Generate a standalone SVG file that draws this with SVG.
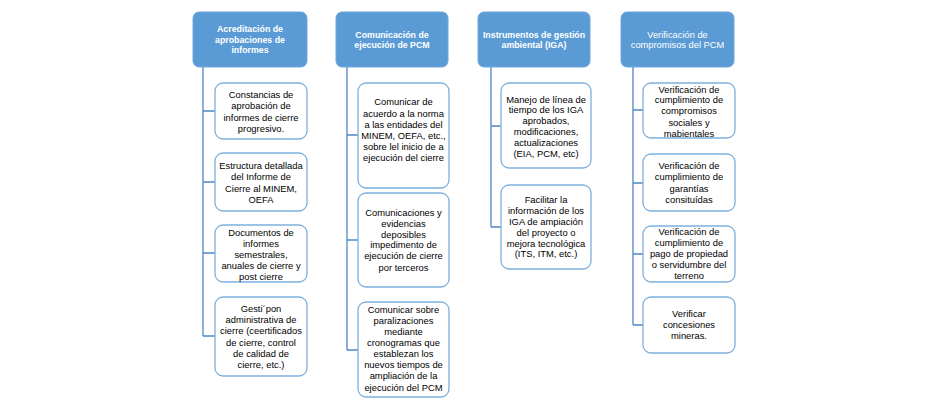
<svg xmlns="http://www.w3.org/2000/svg" width="927" height="407" viewBox="0 0 927 407">
<style>
.hdr{fill:#5B9BD5;stroke:#6FA8DC;stroke-width:1}
.box{fill:#FFFFFF;stroke:#7EB0DE;stroke-width:1.3}
.conn{fill:none;stroke:#4F86C6;stroke-width:1.3}
.ht{font-family:"Liberation Sans",Arial,sans-serif;font-size:8.8px;font-weight:bold;fill:#FFFFFF;text-anchor:middle}
.htr{font-family:"Liberation Sans",Arial,sans-serif;font-size:9.3px;fill:#FFFFFF;text-anchor:middle}
.bt{font-family:"Liberation Sans",Arial,sans-serif;font-size:9.4px;fill:#000000;text-anchor:middle}
</style>
<rect x="0" y="0" width="927" height="407" fill="#FFFFFF"/>
<g id="connectors">
<path class="conn" d="M203,67 V336 M203,111 H215 M203,182 H215 M203,253 H215 M203,336 H215"/>
<path class="conn" d="M347,67 V350 M347,135 H358 M347,240 H358 M347,350 H358"/>
<path class="conn" d="M491,67 V227 M491,126 H501 M491,227 H501"/>
<path class="conn" d="M633,67 V325 M633,110 H643 M633,183 H643 M633,254 H643 M633,325 H643"/>
</g>
<g id="h1">
<rect class="hdr" x="193" y="12" width="114" height="55" rx="6"/>
<text class="ht" x="250"><tspan x="250" y="31.5">Acreditación de</tspan><tspan x="250" y="42.5">aprobaciones de</tspan><tspan x="250" y="53.3">informes</tspan></text>
</g>
<g id="c1b1">
<rect class="box" x="215" y="83" width="92" height="56" rx="8"/>
<text class="bt"><tspan x="261" y="97.5">Constancias de</tspan><tspan x="261" y="109">aprobación de</tspan><tspan x="261" y="120.5">informes de cierre</tspan><tspan x="261" y="132">progresivo.</tspan></text>
</g>
<g id="c1b2">
<rect class="box" x="215" y="153" width="92" height="58" rx="8"/>
<text class="bt"><tspan x="261" y="169">Estructura detallada</tspan><tspan x="261" y="180.3">del Informe de</tspan><tspan x="261" y="191.5">Cierre al MINEM,</tspan><tspan x="261" y="202.8">OEFA</tspan></text>
</g>
<g id="c1b3">
<rect class="box" x="215" y="225" width="92" height="57" rx="8"/>
<text class="bt"><tspan x="261" y="236">Documentos de</tspan><tspan x="261" y="247">informes</tspan><tspan x="261" y="258">semestrales,</tspan><tspan x="261" y="269">anuales de cierre y</tspan><tspan x="261" y="280">post cierre</tspan></text>
</g>
<g id="c1b4">
<rect class="box" x="215" y="297" width="92" height="79" rx="8"/>
<text class="bt"><tspan x="261" y="312">Gesti´pon</tspan><tspan x="261" y="323.3">administrativa de</tspan><tspan x="261" y="334.4">cierre (ceertificados</tspan><tspan x="261" y="345.6">de cierre, control</tspan><tspan x="261" y="356.7">de calidad de</tspan><tspan x="261" y="367.8">cierre, etc.)</tspan></text>
</g>
<g id="h2">
<rect class="hdr" x="336" y="12" width="112" height="55" rx="6"/>
<text class="ht"><tspan x="392" y="37.5">Comunicación de</tspan><tspan x="392" y="48.3">ejecución de PCM</tspan></text>
</g>
<g id="c2b1">
<rect class="box" x="358" y="83" width="91" height="105" rx="8"/>
<text class="bt"><tspan x="403.5" y="105">Comunicar de</tspan><tspan x="403.5" y="116.5">acuerdo a la norma</tspan><tspan x="403.5" y="127.5">a las entidades del</tspan><tspan x="403.5" y="138.5">MINEM, OEFA, etc.,</tspan><tspan x="403.5" y="150">sobre lel inicio de a</tspan><tspan x="403.5" y="161">ejecución del cierre</tspan></text>
</g>
<g id="c2b2">
<rect class="box" x="358" y="193" width="91" height="94" rx="8"/>
<text class="bt"><tspan x="403.5" y="216">Comunicaciones y</tspan><tspan x="403.5" y="226.7">evidencias</tspan><tspan x="403.5" y="237.5">deposibles</tspan><tspan x="403.5" y="248.3">impedimento de</tspan><tspan x="403.5" y="259.3">ejecución de cierre</tspan><tspan x="403.5" y="270.7">por terceros</tspan></text>
</g>
<g id="c2b3">
<rect class="box" x="358" y="302" width="91" height="95" rx="8"/>
<text class="bt"><tspan x="403.5" y="313.3">Comunicar sobre</tspan><tspan x="403.5" y="324.3">paralizaciones</tspan><tspan x="403.5" y="335">mediante</tspan><tspan x="403.5" y="346">cronogramas que</tspan><tspan x="403.5" y="357.3">establezan los</tspan><tspan x="403.5" y="368.3">nuevos tiempos de</tspan><tspan x="403.5" y="379.3">ampliación de la</tspan><tspan x="403.5" y="390.7">ejecución del PCM</tspan></text>
</g>
<g id="h3">
<rect class="hdr" x="478" y="12" width="112" height="55" rx="6"/>
<text class="ht"><tspan x="534" y="37.5">Instrumentos de gestión</tspan><tspan x="534" y="48.3">ambiental (IGA)</tspan></text>
</g>
<g id="c3b1">
<rect class="box" x="501" y="83" width="90" height="85" rx="8"/>
<text class="bt"><tspan x="546" y="102.7">Manejo de línea de</tspan><tspan x="546" y="113.3">tiempo de los IGA</tspan><tspan x="546" y="124">aprobados,</tspan><tspan x="546" y="135">modificaciones,</tspan><tspan x="546" y="146">actualizaciones</tspan><tspan x="546" y="156.7">(EIA, PCM, etc)</tspan></text>
</g>
<g id="c3b2">
<rect class="box" x="501" y="185" width="90" height="84" rx="8"/>
<text class="bt"><tspan x="546" y="202.7">Facilitar la</tspan><tspan x="546" y="214">información de los</tspan><tspan x="546" y="225">IGA de ampiación</tspan><tspan x="546" y="236">del proyecto o</tspan><tspan x="546" y="246.7">mejora tecnológica</tspan><tspan x="546" y="257.3">(ITS, ITM, etc.)</tspan></text>
</g>
<g id="h4">
<rect class="hdr" x="621" y="12" width="113" height="55" rx="6"/>
<text class="htr"><tspan x="677.5" y="37.5">Verificación de</tspan><tspan x="677.5" y="48.3">compromisos del PCM</tspan></text>
</g>
<g id="c4b1">
<rect class="box" x="643" y="83" width="92" height="55" rx="8"/>
<text class="bt"><tspan x="689" y="92.7">Verificación de</tspan><tspan x="689" y="103.3">cumplimiento de</tspan><tspan x="689" y="114.3">compromisos</tspan><tspan x="689" y="125.7">sociales y</tspan><tspan x="689" y="136.7">mabientales</tspan></text>
</g>
<g id="c4b2">
<rect class="box" x="643" y="154" width="92" height="57" rx="8"/>
<text class="bt"><tspan x="689" y="169">Verificación de</tspan><tspan x="689" y="180">cumplimiento de</tspan><tspan x="689" y="191.7">garantías</tspan><tspan x="689" y="202.7">consituídas</tspan></text>
</g>
<g id="c4b3">
<rect class="box" x="643" y="226" width="92" height="56" rx="8"/>
<text class="bt"><tspan x="689" y="235">Verificación de</tspan><tspan x="689" y="246">cumplimiento de</tspan><tspan x="689" y="257.3">pago de propiedad</tspan><tspan x="689" y="268.3">o servidumbre del</tspan><tspan x="689" y="279.3">terreno</tspan></text>
</g>
<g id="c4b4">
<rect class="box" x="643" y="297" width="92" height="56" rx="8"/>
<text class="bt"><tspan x="689" y="317.3">Verificar</tspan><tspan x="689" y="328.3">concesiones</tspan><tspan x="689" y="339.3">mineras.</tspan></text>
</g>
</svg>
